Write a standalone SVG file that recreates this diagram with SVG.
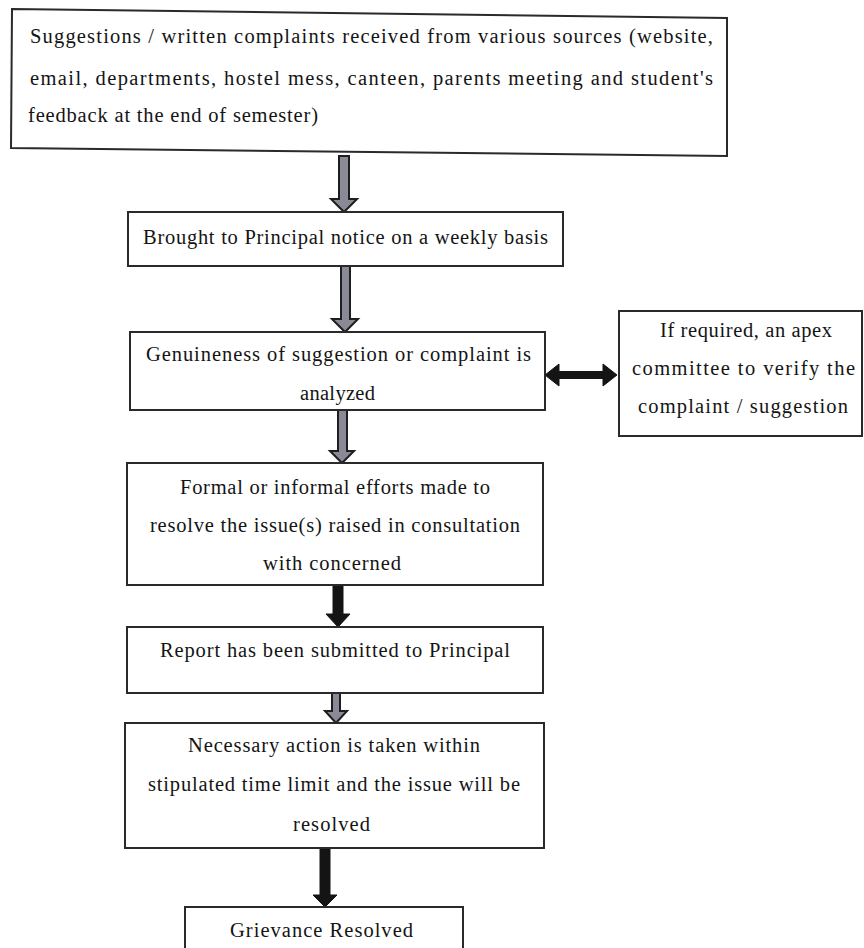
<svg xmlns="http://www.w3.org/2000/svg" width="864" height="948" viewBox="0 0 864 948">
<style>
.box{fill:#fff;stroke:#2a2a2a;stroke-width:2}
.t{font-family:"Liberation Serif","Times New Roman",serif;font-size:20.5px;fill:#141414}
.c{text-anchor:middle}
.ag{fill:#8a8a96;stroke:#1e1e1e;stroke-width:2;stroke-linejoin:miter}
.ab{fill:#141414;stroke:#141414;stroke-width:1}
</style>
<rect width="864" height="948" fill="#fff"/>
<g id="connectors">
<polygon class="ag" points="339,156 349,156 349,199 357,199 344,212 331,199 339,199"/>
<polygon class="ag" points="341,266 350,266 350,319 358,319 345,332 332,319 341,319"/>
<polygon class="ag" points="338,410 347,410 347,451 354,451 342,463 330,451 338,451"/>
<polygon class="ab" points="333,585 343,585 343,614 350,614 338,627 326,614 333,614"/>
<polygon class="ag" points="332,693 340,693 340,711 347,711 336,723 325,711 332,711"/>
<polygon class="ab" points="320,848 330,848 330,895 337,895 325,907 313,895 320,895"/>
<polygon class="ab" points="545,375 559,364 559,371.5 603,371.5 603,364 617,375 603,386 603,378.5 559,378.5 559,386"/>
</g>
<g id="n1">
<polygon class="box" points="12,9 727,18 727,156 11,148"/>
<text class="t" x="30" y="43" textLength="683" lengthAdjust="spacing">Suggestions / written complaints received from various sources (website,</text>
<text class="t" x="30" y="85" textLength="683" lengthAdjust="spacing">email, departments, hostel mess, canteen, parents meeting and student's</text>
<text class="t" x="28" y="122" textLength="290" lengthAdjust="spacing">feedback at the end of semester)</text>
</g>
<g id="n2">
<rect class="box" x="128" y="212" width="435" height="54"/>
<text class="t" x="143" y="244" textLength="405" lengthAdjust="spacing">Brought to Principal notice on a weekly basis</text>
</g>
<g id="n3">
<rect class="box" x="130" y="332" width="415" height="78"/>
<text class="t" x="146" y="361" textLength="385" lengthAdjust="spacing">Genuineness of suggestion or complaint is</text>
<text class="t" x="300" y="400" textLength="75" lengthAdjust="spacing">analyzed</text>
</g>
<g id="n4">
<rect class="box" x="619" y="311" width="243" height="125"/>
<text class="t" x="660" y="337" textLength="172" lengthAdjust="spacing">If required, an apex</text>
<text class="t" x="632" y="375" textLength="223" lengthAdjust="spacing">committee to verify the</text>
<text class="t" x="638" y="413" textLength="210" lengthAdjust="spacing">complaint / suggestion</text>
</g>
<g id="n5">
<rect class="box" x="127" y="463" width="416" height="122"/>
<text class="t" x="180" y="494" textLength="310" lengthAdjust="spacing">Formal or informal efforts made to</text>
<text class="t" x="150" y="532" textLength="370" lengthAdjust="spacing">resolve the issue(s) raised in consultation</text>
<text class="t" x="263" y="570" textLength="138" lengthAdjust="spacing">with concerned</text>
</g>
<g id="n6">
<rect class="box" x="127" y="627" width="416" height="66"/>
<text class="t" x="160" y="657" textLength="350" lengthAdjust="spacing">Report has been submitted to Principal</text>
</g>
<g id="n7">
<rect class="box" x="125" y="723" width="419" height="125"/>
<text class="t" x="188" y="752" textLength="292" lengthAdjust="spacing">Necessary action is taken within</text>
<text class="t" x="148" y="791" textLength="372" lengthAdjust="spacing">stipulated time limit and the issue will be</text>
<text class="t" x="293" y="831" textLength="77" lengthAdjust="spacing">resolved</text>
</g>
<g id="n8">
<rect class="box" x="185" y="907" width="278" height="50"/>
<text class="t" x="230" y="937" textLength="183" lengthAdjust="spacing">Grievance Resolved</text>
</g>
</svg>
